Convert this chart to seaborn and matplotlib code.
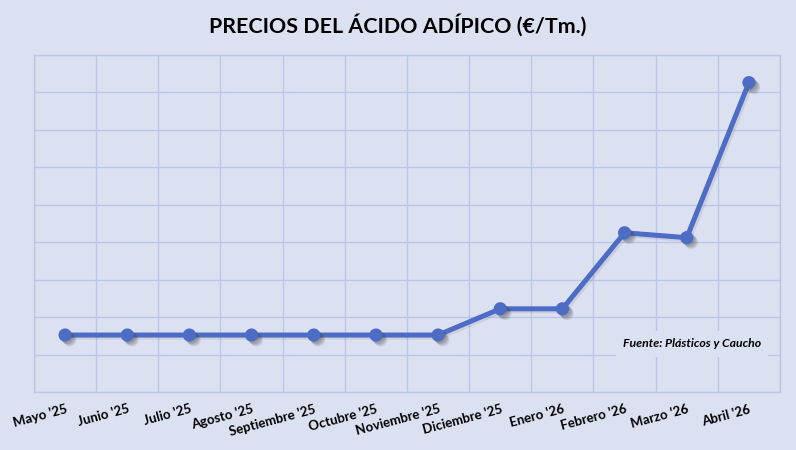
import numpy as np
import pandas as pd
import matplotlib.pyplot as plt
import matplotlib.patheffects as pe
import seaborn as sns

# Datos (unidades relativas a la rejilla; el original no muestra eje Y)
meses = ["Mayo '25", "Junio '25", "Julio '25", "Agosto '25", "Septiembre '25",
         "Octubre '25", "Noviembre '25", "Diciembre '25", "Enero '26",
         "Febrero '26", "Marzo '26", "Abril '26"]
precios = [152, 152, 152, 152, 152, 152, 152, 222, 222, 425, 412, 826]

BG = '#DCE1F2'
GRID = '#B9C6E8'
LINE = '#4D6CC6'

sns.set_style('white')
plt.rcParams['font.family'] = ['Lato', 'DejaVu Sans']

df = pd.DataFrame({'pos': np.arange(len(meses)), 'precio': precios})

fig = plt.figure(figsize=(7.96, 4.5), dpi=100, facecolor=BG)
ax = fig.add_axes([0.0427, 0.129, 0.9372, 0.749])
ax.set_facecolor(BG)

line_shadow = [pe.SimpleLineShadow(offset=(1.5, -1.5), shadow_color='#666666', alpha=0.15),
               pe.Normal()]
sns.lineplot(data=df, x='pos', y='precio', color=LINE, linewidth=3.6, ax=ax,
             path_effects=line_shadow)

# sombra difusa de los marcadores
soft = [pe.SimplePatchShadow(offset=(d, -d), shadow_rgbFace='#444444', alpha=0.14)
        for d in (1.0, 1.8, 2.6, 3.4)]
sns.scatterplot(data=df, x='pos', y='precio', color=LINE, s=90, linewidth=0,
                ax=ax, zorder=3, path_effects=soft + [pe.Normal()])

ax.set_xlim(-0.5, len(meses) - 0.5)
ax.set_ylim(0, 900)
ax.set_xticks(np.arange(len(meses)))
ax.set_xticklabels(meses, rotation=15, ha='right', rotation_mode='anchor',
                   fontsize=9.5, fontweight='bold', color='black')
ax.set_xticks(np.arange(-0.5, len(meses)), minor=True)
ax.set_yticks(np.arange(0, 901, 100))
ax.set_yticklabels([])
ax.tick_params(axis='both', which='both', length=0)
ax.tick_params(axis='x', pad=8)
ax.grid(True, which='minor', axis='x', color=GRID, linewidth=1)
ax.grid(True, which='major', axis='y', color=GRID, linewidth=1)
ax.grid(False, which='major', axis='x')
ax.set_axisbelow(True)
for s in ax.spines.values():
    s.set_color(GRID)
    s.set_linewidth(1)
ax.set_xlabel('')
ax.set_ylabel('')

fig.text(0.5, 0.945, 'PRECIOS DEL ÁCIDO ADÍPICO (€/Tm.)', ha='center', va='center',
         fontsize=15.4, fontweight='bold', color='black')

ax.text(0.882, 0.143, 'Fuente: Plásticos y Caucho', transform=ax.transAxes,
        ha='center', va='center', fontsize=8.8, fontweight='bold', style='italic',
        color='black', zorder=4,
        bbox=dict(boxstyle='square,pad=0.6', facecolor=BG, edgecolor='none'))

fig.savefig('out.png', dpi=100, facecolor=BG)
